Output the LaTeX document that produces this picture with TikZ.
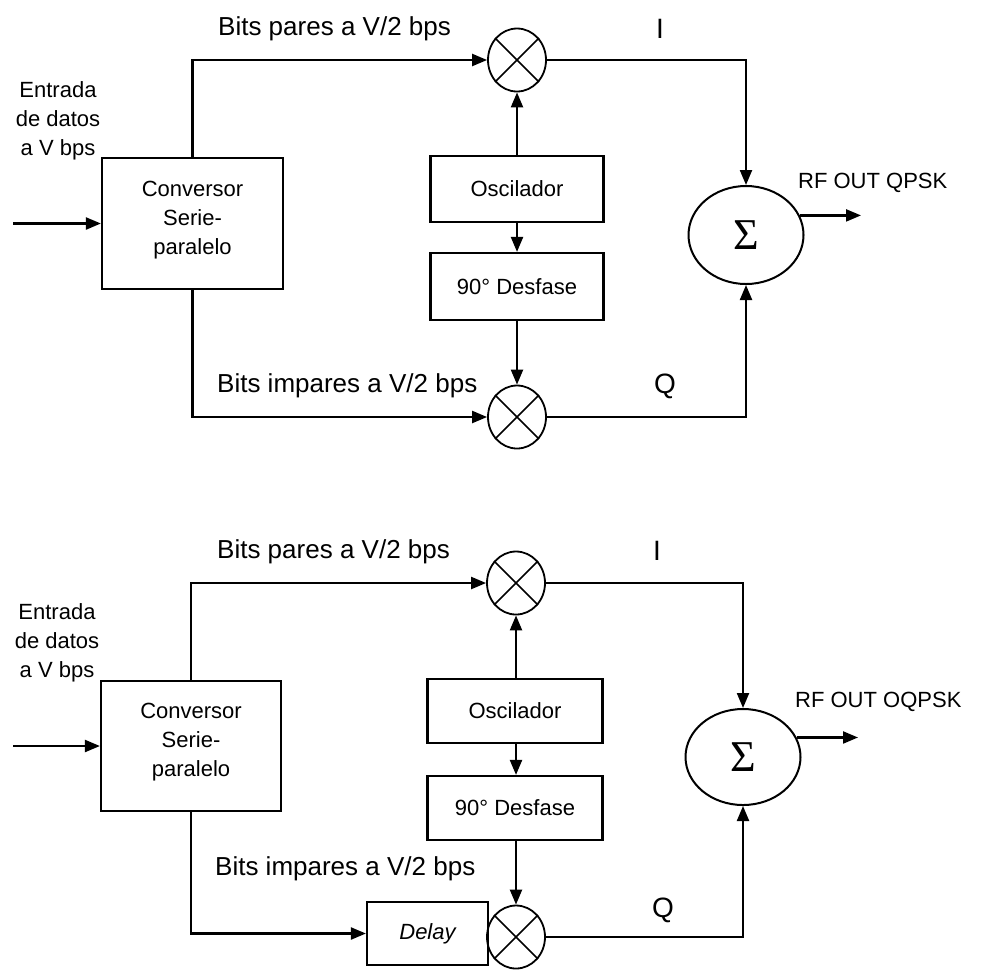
\documentclass[tikz,border=0pt]{standalone}
\usepackage{fontspec}
\setmainfont{Liberation Sans}
\newfontfamily\sigmafont{Liberation Serif}
\usetikzlibrary{arrows.meta,shapes.geometric}
\begin{document}
\begin{tikzpicture}[x=1pt,y=-1pt,
  box/.style={draw,line width=2.2pt,inner sep=0pt,font=\fontsize{22}{29}\selectfont},
  mixer/.style={draw,ellipse,line width=1.8pt,minimum width=58pt,minimum height=63pt,inner sep=0pt},
  summer/.style={draw,ellipse,line width=2pt,minimum width=115pt,minimum height=98pt,inner sep=0pt,font=\sigmafont\fontsize{44}{44}\selectfont},
  wire/.style={line width=2.2pt,-{Triangle[length=15pt,width=12pt]}},
  cross/.style={line width=1.6pt},
  big/.style={inner sep=0pt,font=\fontsize{26}{30}\selectfont},
  small/.style={inner sep=0pt,font=\fontsize{22}{29}\selectfont},
  iq/.style={inner sep=0pt,font=\fontsize{28}{30}\selectfont},
]
\useasboundingbox (0,0) rectangle (992,970);

% ---------------- top diagram (QPSK) ----------------
\node[box,minimum width=181pt,minimum height=131pt] (conv1) at (192.5,223.5) {};
\node[small,align=center] (conv1t) at (192.5,220.5) {Conversor\\Serie-\\paralelo};
\node[small,align=center] (in1t) at (58,120.4) {Entrada\\de datos\\a V bps};
\coordinate (in1) at (13,224);
\node[mixer] (mi1) at (517,60) {};
\node[mixer] (mq1) at (517,417) {};
\node[box,minimum width=173pt,minimum height=66pt] (osc1) at (517,189) {Oscilador};
\node[box,minimum width=173pt,minimum height=67pt] (des1) at (517,286.5) {90° Desfase};
\node[summer] (sum1) at (746,235) {Σ};
\coordinate (out1) at (861,217);

\draw[cross] (mi1.45) -- (mi1.225) (mi1.135) -- (mi1.315);
\draw[cross] (mq1.45) -- (mq1.225) (mq1.135) -- (mq1.315);

\node[big,anchor=base west] (bp1) at (218,35) {Bits pares a V/2 bps};
\node[big,anchor=base west] (bi1) at (217,392) {Bits impares a V/2 bps};
\node[iq,anchor=base] (i1) at (660,38) {I};
\node[iq,anchor=base] (q1) at (665,393) {Q};
\node[small,anchor=base west] (rf1) at (798,188) {RF OUT QPSK};

\draw[wire] (in1 |- conv1.west) -- (conv1.west);
\draw[wire] (conv1.north) |- (mi1.west);
\draw[wire] (conv1.south) |- (mq1.west);
\draw[wire] (osc1.north) -- (mi1.south);
\draw[wire] (osc1.south) -- (des1.north);
\draw[wire] (des1.south) -- (mq1.north);
\draw[wire] (mi1.east) -| (sum1.north);
\draw[wire] (mq1.east) -| (sum1.south);
\draw[wire] (sum1.20) -- (sum1.20 -| out1);

% ---------------- bottom diagram (OQPSK) ----------------
\node[box,minimum width=180pt,minimum height=130pt] (conv2) at (191,746) {};
\node[small,align=center] (conv2t) at (191,742) {Conversor\\Serie-\\paralelo};
\node[small,align=center] (in2t) at (57,643) {Entrada\\de datos\\a V bps};
\coordinate (in2) at (13,747);
\node[mixer] (mi2) at (516,583) {};
\node[mixer] (mq2) at (516,937) {};
\node[box,minimum width=175pt,minimum height=64pt] (osc2) at (515,711) {Oscilador};
\node[box,minimum width=175pt,minimum height=64pt] (des2) at (515,808) {90° Desfase};
\node[box,minimum width=121pt,minimum height=63pt] (del2) at (427.5,933.5) {\itshape Delay};
\node[summer,minimum height=96pt] (sum2) at (743,757) {Σ};
\coordinate (out2) at (858,737);

\draw[cross] (mi2.45) -- (mi2.225) (mi2.135) -- (mi2.315);
\draw[cross] (mq2.45) -- (mq2.225) (mq2.135) -- (mq2.315);

\node[big,anchor=base west] (bp2) at (217,558) {Bits pares a V/2 bps};
\node[big,anchor=base west] (bi2) at (215,875) {Bits impares a V/2 bps};
\node[iq,anchor=base] (i2) at (657,560) {I};
\node[iq,anchor=base] (q2) at (663,917) {Q};
\node[small,anchor=base west] (rf2) at (795,707) {RF OUT OQPSK};

\draw[wire] (in2 |- conv2.west) -- (conv2.west);
\draw[wire] (conv2.north) |- (mi2.west);
\draw[wire] (conv2.south) |- (del2.west);
\draw[wire] (osc2.north -| mi2) -- (mi2.south);
\draw[wire] (osc2.south -| mi2) -- (des2.north -| mi2);
\draw[wire] (des2.south -| mq2) -- (mq2.north);
\draw[wire] (mi2.east) -| (sum2.north);
\draw[wire] (mq2.east) -| (sum2.south);
\draw[wire] (sum2.20) -- (sum2.20 -| out2);
\end{tikzpicture}
\end{document}
